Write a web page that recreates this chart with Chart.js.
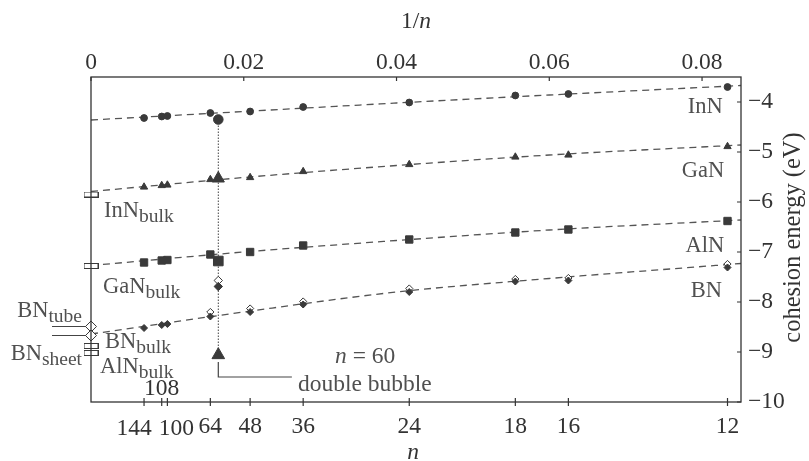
<!DOCTYPE html>
<html lang="en">
<head>
<meta charset="UTF-8">
<title>Cohesion energy of nitride cages</title>
<script src="https://cdn.jsdelivr.net/npm/chart.js"></script>
<style>
    body { margin: 0; background: #fff; }
    #wrap { width: 809px; height: 461px; }
</style>
</head>
<body>
<div id="wrap"><canvas id="chart" width="809" height="461"></canvas></div>
<script>
// cage sizes n (plotted at 1/n)
const nVals = [144, 108, 100, 64, 48, 36, 24, 18, 16, 12];

// cohesion energies (eV)
const innE = [-4.32, -4.29, -4.28, -4.22, -4.19, -4.10, -4.01, -3.87, -3.84, -3.70];
const ganE = [-5.70, -5.67, -5.66, -5.55, -5.51, -5.39, -5.25, -5.10, -5.06, -4.89];
const alnE = [-7.21, -7.17, -7.16, -7.05, -7.00, -6.87, -6.75, -6.61, -6.55, -6.38];
const bnE = [-8.52, -8.46, -8.44, -8.29, -8.20, -8.05, -7.80, -7.59, -7.57, -7.31];
const bnOpenE = [null, null, null, -8.20, -8.13, -7.99, -7.73, -7.54, -7.52, -7.24];

// n = 60 values (big markers) and the double bubble
const n60 = 60;
const e60 = { inn: -4.35, gan: -5.53, aln: -7.18, bn: -7.69, bnOpen: -7.57, bubble: -9.06 };

// bulk / tube / sheet references at 1/n = 0
const bulkNames = ['InN', 'GaN', 'BN', 'AlN'];
const bulkE = [-5.85, -7.28, -8.88, -9.02];
const bnTubeE = -8.49;
const bnSheetE = -8.67;

// dashed fit curves
const fitX = [0, 0.02, 0.04, 0.06, 0.0851];
const innFit = [-4.36, -4.19, -4.02, -3.86, -3.67];
const ganFit = [-5.79, -5.51, -5.27, -5.06, -4.86];
const alnFit = [-7.27, -7.00, -6.77, -6.56, -6.36];
const bnFit = [-8.64, -8.20, -7.80, -7.53, -7.23];

// axes
const xMax = 0.0851;
const topTicks = [0, 0.02, 0.04, 0.06, 0.08];
const yTicks = [-10, -9, -8, -7, -6, -5, -4];
// bottom labels that are nudged sideways (or lifted) to avoid overlap
const nudged = { 144: -10, 100: 9 };

const mk = '#3a3a3a';
const txt = '#333';
const lab = '#505050';
const serif = '"Liberation Serif", "Times New Roman", Times, serif';
const tickSize = 23.5;

function pts(vals) {
    return nVals.map((n, i) => ({ x: 1 / n, y: vals[i] })).filter(p => p.y !== null);
}
function fitPts(vals) {
    return fitX.map((x, i) => ({ x: x, y: vals[i] }));
}
function fitLine(vals) {
    return {
        type: 'line', data: fitPts(vals), borderColor: '#555', borderWidth: 1.3,
        borderDash: [7, 5], pointRadius: 0, cubicInterpolationMode: 'monotone', order: 3
    };
}
function scatter(data, style, r, filled, order) {
    return {
        data: data, pointStyle: style, pointRadius: r, borderWidth: 1,
        borderColor: mk, backgroundColor: filled ? mk : '#fff', showLine: false,
        order: order, clip: false
    };
}

// flat open bar used for the bulk values
const bar = document.createElement('canvas');
bar.width = 15; bar.height = 6;
(function () {
    const c = bar.getContext('2d');
    c.fillStyle = '#fff';
    c.fillRect(0, 0, 15, 6);
    c.strokeStyle = mk;
    c.lineWidth = 1;
    c.strokeRect(0.5, 0.5, 14, 5);
})();

function subText(ctx, main, sub, x, y, align) {
    ctx.font = '22.5px ' + serif;
    const w1 = ctx.measureText(main).width;
    ctx.font = '19.5px ' + serif;
    const w2 = ctx.measureText(sub).width;
    const x0 = align === 'right' ? x - w1 - w2 : x;
    ctx.textAlign = 'left';
    ctx.font = '22.5px ' + serif;
    ctx.fillText(main, x0, y);
    ctx.font = '19.5px ' + serif;
    ctx.fillText(sub, x0 + w1, y + 5);
}

const decorations = {
    id: 'decorations',
    afterDatasetsDraw(chart) {
        const ctx = chart.ctx;
        const a = chart.chartArea;
        const xs = chart.scales.x;
        const ys = chart.scales.y;
        const px = v => xs.getPixelForValue(v);
        const py = v => ys.getPixelForValue(v);
        ctx.save();

        // frame
        ctx.strokeStyle = '#333';
        ctx.lineWidth = 1.3;
        ctx.strokeRect(a.left, a.top, a.right - a.left, a.bottom - a.top);

        // tick marks
        ctx.lineWidth = 1.2;
        ctx.beginPath();
        topTicks.forEach(v => { ctx.moveTo(px(v), a.top); ctx.lineTo(px(v), a.top + 4); });
        nVals.forEach(n => { ctx.moveTo(px(1 / n), a.bottom - 4); ctx.lineTo(px(1 / n), a.bottom + 4); });
        yTicks.forEach(v => { ctx.moveTo(a.right - 4, py(v)); ctx.lineTo(a.right, py(v)); });
        ctx.stroke();

        // double bubble leader
        ctx.strokeStyle = '#444';
        ctx.lineWidth = 1.2;
        ctx.beginPath();
        ctx.moveTo(px(1 / n60), py(-9.2));
        ctx.lineTo(px(1 / n60), py(-9.5));
        ctx.lineTo(px(0.0263), py(-9.5));
        ctx.stroke();

        // BN tube / sheet leaders
        ctx.beginPath();
        ctx.moveTo(a.left - 39, py(bnTubeE)); ctx.lineTo(a.left - 5, py(bnTubeE));
        ctx.moveTo(a.left - 39, py(bnSheetE)); ctx.lineTo(a.left - 5, py(bnSheetE));
        ctx.stroke();

        ctx.textBaseline = 'alphabetic';
        ctx.fillStyle = lab;

        // series names
        ctx.font = '22.5px ' + serif;
        ctx.textAlign = 'right';
        ctx.fillText('InN', px(0.0827), py(-4.22));
        ctx.fillText('GaN', px(0.0829), py(-5.50));
        ctx.fillText('AlN', px(0.0829), py(-7.00));
        ctx.fillText('BN', px(0.0826), py(-7.90));

        // bulk labels
        subText(ctx, 'InN', 'bulk', a.left + 13, py(-6.30), 'left');
        subText(ctx, 'GaN', 'bulk', a.left + 12, py(-7.82), 'left');
        subText(ctx, 'BN', 'bulk', a.left + 14, py(-8.92), 'left');
        subText(ctx, 'AlN', 'bulk', a.left + 9, py(-9.42), 'left');
        subText(ctx, 'BN', 'tube', a.left - 9, py(-8.30), 'right');
        subText(ctx, 'BN', 'sheet', a.left - 9, py(-9.16), 'right');

        // n = 60 / double bubble
        const big = tickSize + 'px ' + serif;
        const bigI = 'italic ' + big;
        ctx.font = bigI;
        ctx.textAlign = 'left';
        const nw = ctx.measureText('n').width;
        ctx.font = big;
        const rest = ' = 60';
        const rw = ctx.measureText(rest).width;
        const cx = px(0.0359);
        ctx.font = bigI;
        ctx.fillText('n', cx - (nw + rw) / 2, py(-9.22));
        ctx.font = big;
        ctx.fillText(rest, cx - (nw + rw) / 2 + nw, py(-9.22));
        ctx.fillText('double bubble', px(0.0271), py(-9.78));

        // crowded bottom labels: 108 sits above the axis, 144 and 100 pushed apart
        ctx.fillStyle = txt;
        ctx.textAlign = 'center';
        ctx.fillText('108', px(1 / 108), py(-9.86));
        Object.keys(nudged).forEach(n => {
            ctx.fillText(String(n), px(1 / n) + nudged[n], a.bottom + 33);
        });

        // axis titles
        ctx.font = big;
        const w1 = ctx.measureText('1/').width;
        ctx.font = bigI;
        const w2 = ctx.measureText('n').width;
        const tx = (a.left + a.right) / 2 - (w1 + w2) / 2;
        ctx.textAlign = 'left';
        ctx.font = big;
        ctx.fillText('1/', tx, 28);
        ctx.font = bigI;
        ctx.fillText('n', tx + w1, 28);
        ctx.textAlign = 'center';
        ctx.fillText('n', (a.left + a.right) / 2 - 3, 459);

        ctx.font = '24.5px ' + serif;
        ctx.translate(800, (a.top + a.bottom) / 2 - 2);
        ctx.rotate(-Math.PI / 2);
        ctx.fillText('cohesion energy (eV)', 0, 0);
        ctx.restore();
    }
};

const tickFont = { family: serif, size: tickSize };

function build() {
    new Chart(document.getElementById('chart'), {
        type: 'scatter',
        data: {
            datasets: [
                fitLine(innFit), fitLine(ganFit), fitLine(alnFit), fitLine(bnFit),
                {
                    type: 'line', data: [{ x: 1 / n60, y: e60.inn }, { x: 1 / n60, y: e60.bubble }],
                    borderColor: '#444', borderWidth: 1, borderDash: [1.5, 1.5], pointRadius: 0, order: 3
                },
                scatter(pts(innE), 'circle', 3.4, true, 0),
                scatter(pts(ganE), 'triangle', 4.2, true, 0),
                scatter(pts(alnE), 'rect', 5.2, true, 0),
                scatter(pts(bnE), 'rectRot', 3.5, true, 0),
                scatter(pts(bnOpenE), 'rectRot', 3.6, false, 1),
                scatter([{ x: 1 / n60, y: e60.inn }], 'circle', 4.8, true, 0),
                scatter([{ x: 1 / n60, y: e60.gan }], 'triangle', 7, true, 0),
                scatter([{ x: 1 / n60, y: e60.aln }], 'rect', 6.8, true, 0),
                scatter([{ x: 1 / n60, y: e60.bn }], 'rectRot', 4.2, true, 0),
                scatter([{ x: 1 / n60, y: e60.bnOpen }], 'rectRot', 4.2, false, 1),
                scatter([{ x: 1 / n60, y: e60.bubble }], 'triangle', 7.3, true, 0),
                scatter(bulkE.map(v => ({ x: 0, y: v })), bar, 5, false, 0),
                scatter([{ x: 0, y: bnTubeE }, { x: 0, y: bnSheetE }], 'rectRot', 5.5, false, 0)
            ]
        },
        options: {
            responsive: false,
            animation: false,
            events: [],
            layout: { padding: { left: 91, top: 0, right: 0, bottom: 0 } },
            plugins: { legend: { display: false }, tooltip: { enabled: false } },
            scales: {
                x: {
                    type: 'linear', position: 'bottom', min: 0, max: xMax,
                    afterBuildTicks: s => { s.ticks = nVals.map(n => ({ value: 1 / n })); },
                    afterFit: s => { s.height = 59; },
                    ticks: {
                        autoSkip: false, maxRotation: 0, padding: 11, color: txt, font: tickFont,
                        callback: (v, i) => (nVals[i] === 108 || nudged[nVals[i]] !== undefined) ? '' : String(nVals[i])
                    },
                    grid: { display: false, drawTicks: false },
                    border: { display: false }
                },
                xTop: {
                    type: 'linear', position: 'top', min: 0, max: xMax,
                    afterBuildTicks: s => { s.ticks = topTicks.map(v => ({ value: v })); },
                    afterFit: s => { s.height = 77; },
                    ticks: {
                        autoSkip: false, maxRotation: 0, padding: 0, color: txt, font: tickFont,
                        callback: v => v === 0 ? '0' : v.toFixed(2)
                    },
                    grid: { display: false, drawTicks: false },
                    border: { display: false }
                },
                y: {
                    type: 'linear', position: 'right', min: -10, max: -3.5,
                    afterBuildTicks: s => { s.ticks = yTicks.map(v => ({ value: v })); },
                    afterFit: s => { s.width = 68; },
                    ticks: {
                        padding: 7, color: txt, font: tickFont,
                        callback: v => '\u2212' + Math.abs(v)
                    },
                    grid: { display: false, drawTicks: false },
                    border: { display: false }
                }
            }
        },
        plugins: [decorations]
    });
}

if (document.fonts && document.fonts.load) {
    Promise.all([
        document.fonts.load('22px "Liberation Serif"'),
        document.fonts.load('italic 22px "Liberation Serif"')
    ]).then(build, build);
} else {
    build();
}
</script>
</body>
</html>
